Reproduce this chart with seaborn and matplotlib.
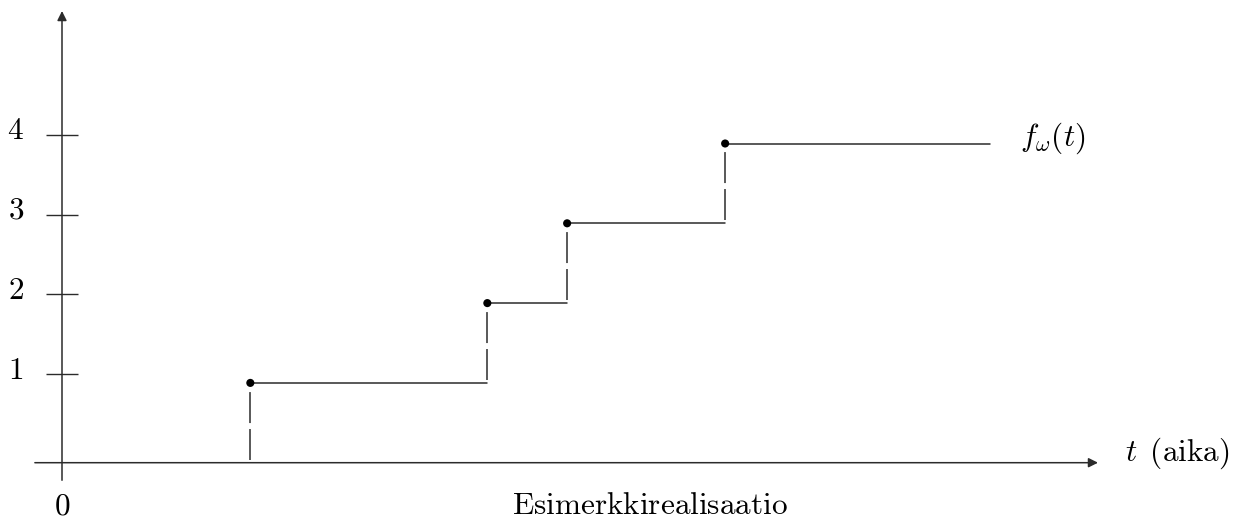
import numpy as np
import pandas as pd
import matplotlib
matplotlib.use('Agg')
import matplotlib.pyplot as plt
import seaborn as sns

# Example realisation of a counting process f_omega(t)
jump_times = [2.36, 5.33, 6.33, 8.31]
levels = [1, 2, 3, 4]
t_end = 11.63

# y tick marks sit slightly above the step levels in the original
ytick_pos = [1.11, 2.11, 3.11, 4.11]
ytick_labels = ['1', '2', '3', '4']

sns.set_theme(style='white')
plt.rcParams['mathtext.fontset'] = 'cm'
plt.rcParams['lines.scale_dashes'] = False

ink = '#2b2b2b'
px = 79.8  # pixels per data unit
fs = 22.5

fig = plt.figure(figsize=(12.33, 5.18), dpi=100)
ax = fig.add_axes([0, 0, 1, 1])
ax.set_xlim(-62 / px, (1233 - 62) / px)
ax.set_ylim(-(518 - 462.7) / px, 462.7 / px)
ax.axis('off')

# horizontal pieces of the step function
ends = jump_times[1:] + [t_end]
seg = pd.DataFrame({
    't': [v for a, b in zip(jump_times, ends) for v in (a, b)],
    'f': [v for l in levels for v in (l, l)],
    'seg': [i for i in range(len(levels)) for _ in range(2)],
})
sns.lineplot(data=seg, x='t', y='f', units='seg', estimator=None,
             color=ink, lw=1.1, ax=ax, legend=False)

# dashed jumps
lower = [0] + levels[:-1]
for t, lo, hi in zip(jump_times, lower, levels):
    ax.plot([t, t], [lo + 0.04, hi - 0.1], color=ink, lw=1.1,
            linestyle=(0, (22.3, 4.3)), solid_capstyle='butt', dash_capstyle='butt')

# jump points
pts = pd.DataFrame({'t': jump_times, 'f': levels})
sns.scatterplot(data=pts, x='t', y='f', color='black', s=34, edgecolor='none',
                ax=ax, zorder=5)

# axes with arrow heads
arrow = dict(arrowstyle='-|>', color=ink, lw=1.1, mutation_scale=14,
             shrinkA=0, shrinkB=0)
ax.annotate('', xy=((1098 - 62) / px, 0), xytext=(-0.34, 0), arrowprops=arrow)
ax.annotate('', xy=(0, (462.7 - 11) / px), xytext=(0, -0.22), arrowprops=arrow)

# y ticks
ax.hlines(ytick_pos, -0.2, 0.2, color=ink, lw=1.0)
for y, lab in zip(ytick_pos, ytick_labels):
    ax.text(-0.58, y - 0.055, '$' + lab + '$', fontsize=fs, ha='center',
            va='baseline', color='black')

ax.text(0, -0.645, '$0$', fontsize=fs, ha='center', va='baseline', color='black')
ax.text(7.37, -0.645, r'$\mathrm{Esimerkkirealisaatio}$', fontsize=fs,
        ha='center', va='baseline', color='black')
ax.text((1125 - 62) / px, 0.02, r'$t\ \,\mathrm{(aika)}$', fontsize=fs,
        ha='left', va='baseline', color='black')
ax.text((1020 - 62) / px, 3.97, r'$f_\omega(t)$', fontsize=fs,
        ha='left', va='baseline', color='black')

fig.savefig('out.png', dpi=100)
